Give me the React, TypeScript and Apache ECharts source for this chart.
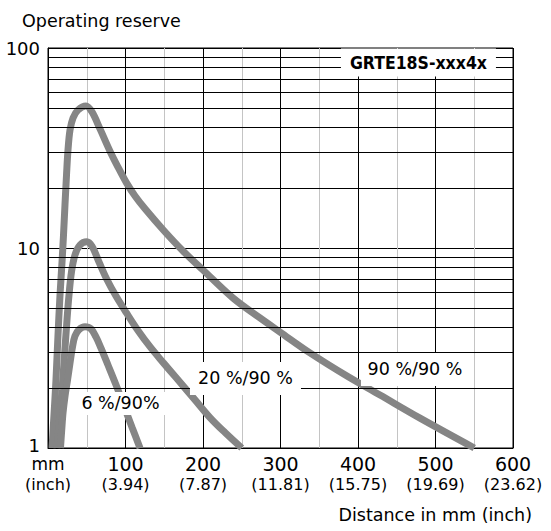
import React, { useEffect, useRef } from "react";
import * as echarts from "echarts";

// ---- data ----
const xTicks = [0, 100, 200, 300, 400, 500, 600];
const xTickMm = ["mm", "100", "200", "300", "400", "500", "600"];
const xTickInch = ["(inch)", "(3.94)", "(7.87)", "(11.81)", "(15.75)", "(19.69)", "(23.62)"];
const yMinorGrid = [2, 3, 4, 5, 6, 7, 8, 9, 20, 30, 40, 50, 60, 70, 80, 90];

const curve90: [number, number][] = [
  [5.2, 1], [7.7, 1.46], [10.3, 2.19], [12.9, 3.67], [15.5, 5.82], [18.1, 8.51],
  [20, 11.6], [21.9, 16.4], [23.9, 23.2], [25.8, 30.9], [28.4, 38.9], [32.3, 44.7],
  [38.7, 49], [49, 51.3], [56.8, 47.9], [67.1, 39.4], [80, 30.5], [90.3, 25.4],
  [101.5, 21.1], [112.3, 18.2], [125.2, 15.7], [148.8, 12.3], [174.2, 9.66],
  [200, 7.76], [238.7, 5.62], [273.5, 4.47], [299.4, 3.8], [338, 2.99], [385.8, 2.29],
  [428.4, 1.84], [480, 1.41], [550, 1.0],
];
const curve20: [number, number][] = [
  [11.6, 1], [14.8, 1.38], [18.1, 1.95], [21.3, 2.92], [24.5, 4.37], [27.1, 5.82],
  [30.3, 7.59], [34.8, 9.23], [41.3, 10.35], [50, 10.75], [56.8, 10.2], [65.8, 8.51],
  [75.7, 7.0], [87.7, 5.75], [101.5, 4.72], [116.1, 3.87], [131.6, 3.21], [148.4, 2.68],
  [166, 2.23], [189.7, 1.74], [209, 1.42], [228.4, 1.195], [250, 1.0],
];
const curve6: [number, number][] = [
  [16.1, 1], [17.7, 1.23], [19.4, 1.5], [21.9, 1.81], [25.2, 2.19], [28.4, 2.66],
  [31.6, 3.2], [34.8, 3.63], [40, 3.91], [47.7, 4.04], [55.5, 3.94], [61.9, 3.59],
  [68.4, 3.16], [77.4, 2.6], [87.7, 2.07], [98.1, 1.62], [108.4, 1.27], [118.7, 1.0],
];

const curveLabels = ["90 %/90 %", "20 %/90 %", "6 %/90%"];
const curveLabelCoords: [number, number][] = [[473.5, 2.47], [254.8, 2.226], [93.5, 1.67]];
const curveLabelBoxes: [number, number][] = [[108, 33], [111, 33], [92, 23]];
const productName = "GRTE18S-xxx4x";
const productCoord: [number, number] = [478, 84.6];

const FONT = "DejaVu Sans";
const CURVE_COLOR = "#858585";

export default function App() {
  const ref = useRef<HTMLDivElement>(null);
  useEffect(() => {
    if (!ref.current) return;
    const chart = echarts.init(ref.current, undefined, { renderer: "svg" });
    const curveSeries = (data: [number, number][]) => ({
      type: "line",
      data,
      smooth: 0.35,
      symbol: "none",
      clip: true,
      z: 3,
      lineStyle: { color: CURVE_COLOR, width: 7 },
      silent: true,
    });
    chart.setOption({
      animation: false,
      backgroundColor: "#fff",
      textStyle: { fontFamily: FONT },
      grid: {
        left: 48, right: 38, top: 48, bottom: 83,
        show: true, borderColor: "#000", borderWidth: 1, backgroundColor: "transparent",
      },
      xAxis: {
        type: "value", min: 0, max: 600, interval: 50,
        axisLine: { show: true, lineStyle: { color: "#000", width: 1 } },
        axisTick: { show: false },
        splitLine: { show: true, lineStyle: { color: ["#000", "#c4c4c4"], width: 1 } },
        axisLabel: {
          interval: 0, margin: 7, color: "#000", fontFamily: FONT,
          formatter: (v: number) => {
            const i = xTicks.indexOf(v);
            if (i < 0) return "";
            const top = i === 0 ? "u" : "a";
            return `{${top}|${xTickMm[i]}}\n{b|${xTickInch[i]}}`;
          },
          rich: {
            a: { fontSize: 19, lineHeight: 17, fontFamily: FONT, color: "#000" },
            u: { fontSize: 17, lineHeight: 17, fontFamily: FONT, color: "#000" },
            b: { fontSize: 16, lineHeight: 24, fontFamily: FONT, color: "#000" },
          },
        },
      },
      yAxis: {
        type: "log", logBase: 10, min: 1, max: 100,
        axisLine: { show: true, lineStyle: { color: "#000", width: 1 } },
        axisTick: { show: false },
        splitLine: { show: true, lineStyle: { color: "#000", width: 1 } },
        axisLabel: {
          fontSize: 18, color: "#000", margin: 8, fontFamily: FONT,
          formatter: (v: number) => (v === 1 ? `{one|${v}}` : `${v}`),
          rich: {
            one: { fontSize: 18, lineHeight: 14, padding: [0, 0, 6, 0], fontFamily: FONT, color: "#000" },
          },
        },
      },
      graphic: [
        {
          type: "text", left: 22, top: 12,
          style: { text: "Operating reserve", fontSize: 17.5, fontFamily: FONT, fill: "#000" },
        },
        {
          type: "text", right: 19, top: 506,
          style: { text: "Distance in mm (inch)", fontSize: 17.5, fontFamily: FONT, fill: "#000" },
        },
      ],
      series: [
        {
          type: "line", data: [], z: 1, silent: true,
          markLine: {
            silent: true, symbol: "none", animation: false,
            label: { show: false },
            lineStyle: { color: "#000", width: 1, type: "solid" },
            data: yMinorGrid.map((v) => ({ yAxis: v })),
          },
        },
        curveSeries(curve90),
        curveSeries(curve20),
        curveSeries(curve6),
        {
          type: "line", data: [], z: 10, silent: true,
          markPoint: {
            silent: true, animation: false,
            data: [
              ...curveLabels.map((t, i) => ({
                coord: curveLabelCoords[i],
                symbol: "rect",
                symbolSize: curveLabelBoxes[i],
                itemStyle: { color: "#fff" },
                label: {
                  show: true, position: "inside", formatter: t, color: "#000",
                  fontSize: 17.5, fontFamily: FONT,
                },
              })),
              {
                coord: productCoord,
                symbol: "rect",
                symbolSize: [155, 28],
                itemStyle: { color: "#fff" },
                label: {
                  show: true, position: "inside", formatter: productName, color: "#000",
                  fontSize: 17.5, fontWeight: "bold", fontFamily: "DejaVu Sans Condensed",
                },
              },
            ],
          },
        },
      ],
    });
    return () => chart.dispose();
  }, []);
  return (
    <div
      ref={ref}
      style={{ position: "fixed", left: 0, top: 0, width: 551, height: 531 }}
    />
  );
}
